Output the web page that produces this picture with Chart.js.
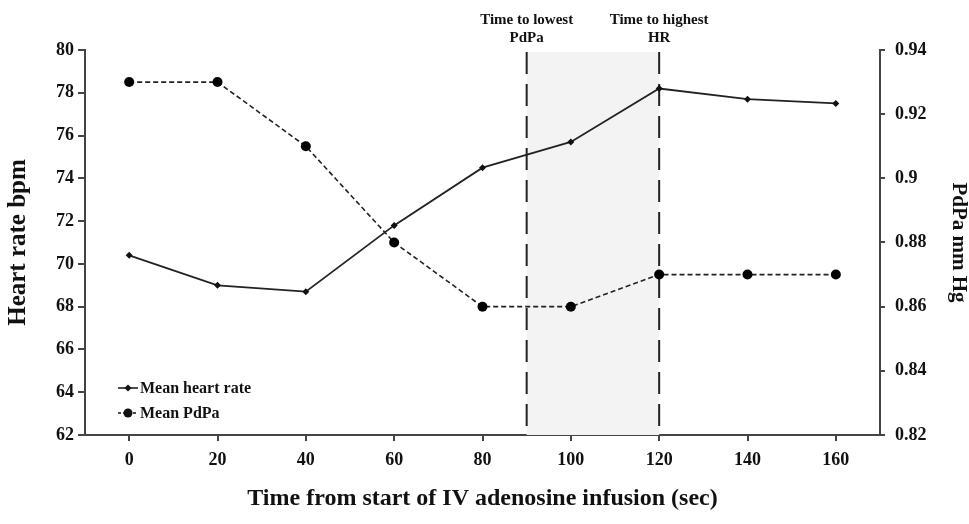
<!DOCTYPE html>
<html><head><meta charset="utf-8">
<script src="https://cdn.jsdelivr.net/npm/chart.js@4.4.1/dist/chart.umd.min.js"></script>
<style>html,body{margin:0;padding:0;background:#fff}#wrap{width:969px;height:524px}</style>
</head><body><div id="wrap"><canvas id="c" width="969" height="524"></canvas></div>
<script>
const times = [0, 20, 40, 60, 80, 100, 120, 140, 160];
const heartRate = [70.4, 69.0, 68.7, 71.8, 74.5, 75.7, 78.2, 77.7, 77.5];
const pdpa = [0.93, 0.93, 0.91, 0.88, 0.86, 0.86, 0.87, 0.87, 0.87];
const pdpaTicks = [0.82, 0.84, 0.86, 0.88, 0.9, 0.92, 0.94];
const markerTimes = [90, 120];
const markerLabels = [["Time to lowest", "PdPa"], ["Time to highest", "HR"]];
const legendLabels = ["Mean heart rate", "Mean PdPa"];

const SERIF = "'Liberation Serif', 'DejaVu Serif', serif";
const ink = '#111';
const axisCol = '#444';

const overlay = {
  id: 'overlay',
  beforeDatasetsDraw(chart) {
    const {ctx, chartArea, scales} = chart;
    const x = scales.x;
    const x1 = x.getPixelForValue(markerTimes[0]);
    const x2 = x.getPixelForValue(markerTimes[1]);
    const top = chartArea.top + 2, bottom = chartArea.bottom;
    ctx.save();
    ctx.fillStyle = '#f3f3f3';
    ctx.fillRect(x1, top, x2 - x1, bottom - top);
    ctx.strokeStyle = '#222';
    ctx.lineWidth = 2;
    ctx.setLineDash([22, 10]);
    [x1, x2].forEach(px => {
      ctx.beginPath(); ctx.moveTo(px, top); ctx.lineTo(px, bottom); ctx.stroke();
    });
    ctx.setLineDash([]);
    ctx.fillStyle = ink;
    ctx.font = 'bold 15px ' + SERIF;
    ctx.textAlign = 'center';
    ctx.textBaseline = 'middle';
    [x1, x2].forEach((px, i) => {
      ctx.fillText(markerLabels[i][0], px, 20);
      ctx.fillText(markerLabels[i][1], px, 38);
    });
    ctx.restore();
  },
  afterDraw(chart) {
    const {ctx} = chart;
    ctx.save();
    ctx.strokeStyle = ink; ctx.fillStyle = ink; ctx.lineWidth = 1.5;
    const lx = 128, ys = [388, 413];
    ys.forEach((y, i) => {
      if (i === 1) ctx.setLineDash([3, 2]);
      ctx.beginPath(); ctx.moveTo(lx - 10, y); ctx.lineTo(lx + 10, y); ctx.stroke();
      ctx.setLineDash([]);
      ctx.beginPath();
      if (i === 0) {
        ctx.moveTo(lx, y - 3.5); ctx.lineTo(lx + 3.5, y); ctx.lineTo(lx, y + 3.5); ctx.lineTo(lx - 3.5, y); ctx.closePath();
      } else {
        ctx.arc(lx, y, 4.5, 0, Math.PI * 2);
      }
      ctx.fill();
      ctx.font = 'bold 16px ' + SERIF;
      ctx.textAlign = 'left'; ctx.textBaseline = 'middle';
      ctx.fillText(legendLabels[i], lx + 12, y + 1);
    });
    ctx.restore();
  }
};

const tickFont = {family: SERIF, size: 18, weight: 'bold'};
const titleFont = {family: SERIF, size: 24, weight: 'bold', lineHeight: 1};

new Chart(document.getElementById('c'), {
  type: 'line',
  data: {
    datasets: [
      {
        label: legendLabels[0],
        data: times.map((t, i) => ({x: t, y: heartRate[i]})),
        yAxisID: 'y',
        borderColor: '#222', backgroundColor: '#111',
        borderWidth: 1.8, pointStyle: 'rectRot', pointRadius: 3.5,
        pointBorderWidth: 0, tension: 0
      },
      {
        label: legendLabels[1],
        data: times.map((t, i) => ({x: t, y: pdpa[i]})),
        yAxisID: 'y2',
        borderColor: '#222', backgroundColor: '#000',
        borderWidth: 1.6, borderDash: [5, 3], pointStyle: 'circle', pointRadius: 5,
        pointBorderWidth: 0, tension: 0
      }
    ]
  },
  options: {
    responsive: false, animation: false,
    layout: {padding: {top: 50, left: 0, right: 0, bottom: 0}},
    plugins: {legend: {display: false}, tooltip: {enabled: false}},
    scales: {
      x: {
        type: 'linear', min: -10, max: 170,
        afterBuildTicks(s) { s.ticks = times.map(v => ({value: v})); },
        afterFit(s) { s.height = 89; },
        grid: {display: true, drawOnChartArea: false, drawTicks: true, tickLength: 6, color: axisCol, lineWidth: 2},
        border: {display: true, color: axisCol, width: 2},
        ticks: {font: tickFont, color: ink, padding: 9, maxRotation: 0},
        title: {display: true, text: 'Time from start of IV adenosine infusion (sec)', font: titleFont, color: ink, padding: {top: 0, bottom: 13}}
      },
      y: {
        position: 'left', min: 62, max: 80,
        afterFit(s) { s.width = 85; },
        grid: {display: true, drawOnChartArea: false, drawTicks: true, tickLength: 7, color: axisCol, lineWidth: 2},
        border: {display: true, color: axisCol, width: 2},
        ticks: {stepSize: 2, font: tickFont, color: ink, padding: 4},
        title: {display: true, text: 'Heart rate bpm', font: {family: SERIF, size: 25, weight: 'bold', lineHeight: 1}, color: ink, padding: {top: 6, bottom: 0}}
      },
      y2: {
        position: 'right', min: 0.82, max: 0.94,
        afterFit(s) { s.width = 89; },
        afterBuildTicks(s) { s.ticks = pdpaTicks.map(v => ({value: v})); },
        grid: {display: true, drawOnChartArea: false, drawTicks: true, tickLength: 5, color: axisCol, lineWidth: 2},
        border: {display: true, color: axisCol, width: 2},
        ticks: {font: tickFont, color: ink, padding: 10, callback: v => String(+v.toFixed(2))},
        title: {display: true, text: 'PdPa mm Hg', font: {family: SERIF, size: 21, weight: 'bold', lineHeight: 1}, color: ink, padding: {top: 0, bottom: 0}}
      }
    }
  },
  plugins: [overlay]
});
</script></body></html>
